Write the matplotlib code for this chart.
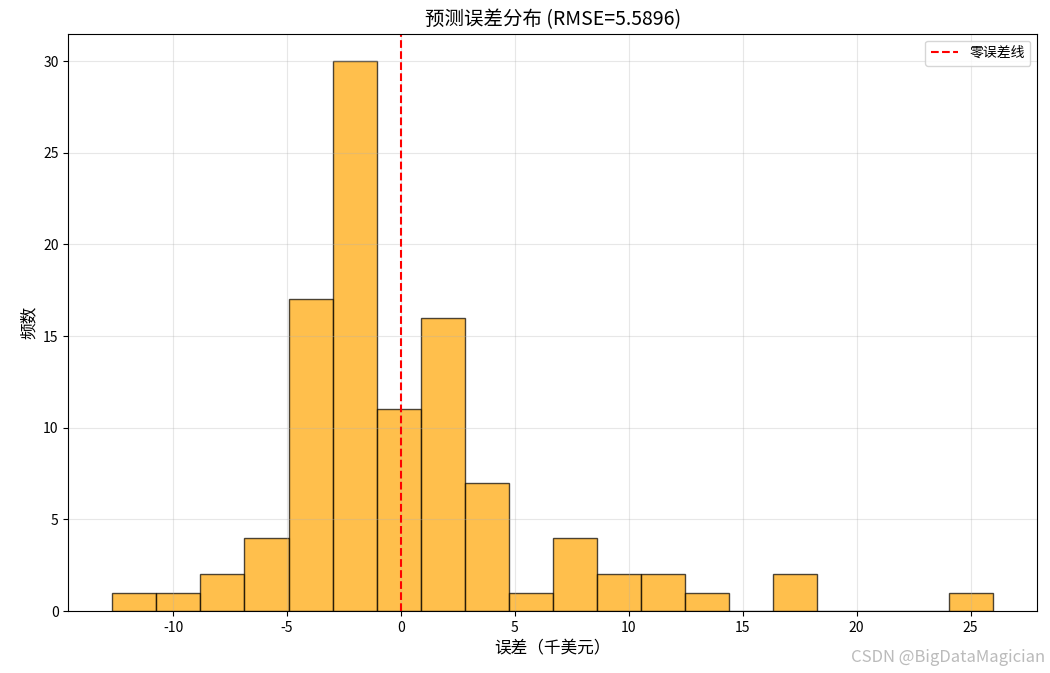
import numpy as np
import matplotlib.pyplot as plt

plt.rcParams['font.family'] = ['Noto Sans CJK SC', 'DejaVu Sans']
plt.rcParams['axes.unicode_minus'] = False

# 误差直方图数据
bin_lo = -12.67
bin_hi = 26.0
counts = [1, 1, 2, 4, 17, 30, 11, 16, 7, 1, 4, 2, 2, 1, 0, 2, 0, 0, 0, 1]
rmse = 5.5896

edges = np.linspace(bin_lo, bin_hi, len(counts) + 1)

fig = plt.figure(figsize=(10.5, 6.73), dpi=100)
ax = fig.add_axes([0.065, 0.092, 0.923, 0.858])
ax.bar(edges[:-1], counts, width=np.diff(edges), align='edge',
       color='orange', alpha=0.7, edgecolor='black')
ax.axvline(0, color='red', linestyle='--', label='零误差线')
ax.set_title(f'预测误差分布 (RMSE={rmse:.4f})', fontsize=14)
ax.set_xlabel('误差（千美元）', fontsize=12)
ax.set_ylabel('频数', fontsize=12)
ax.grid(True, alpha=0.3)
ax.legend()
fig.text(0.995, 0.01, 'CSDN @BigDataMagician', ha='right', va='bottom',
         fontsize=12, color='#bbbbbb')
fig.savefig('out.png')
